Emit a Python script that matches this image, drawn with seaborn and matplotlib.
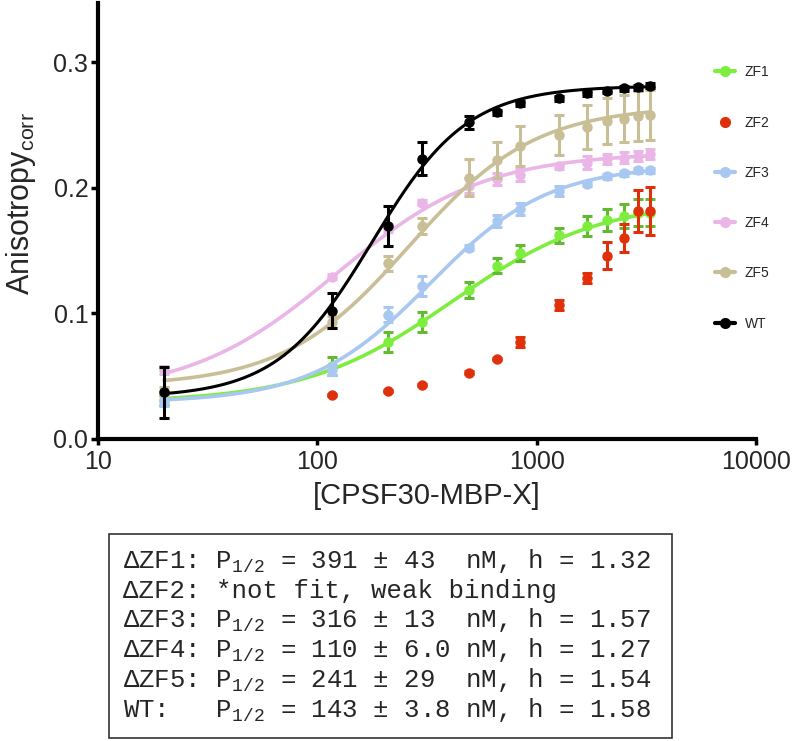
import numpy as np
import pandas as pd
import matplotlib
matplotlib.use("Agg")
import matplotlib.pyplot as plt
import seaborn as sns
from matplotlib.lines import Line2D
from matplotlib.patches import Rectangle
from matplotlib.ticker import NullLocator

# concentrations (nM)
conc = [20, 117, 210, 300, 490, 660, 840, 1260, 1690, 2100, 2500, 2900, 3300]

series = ["ZF1", "ZF2", "ZF3", "ZF4", "ZF5", "WT"]

zf1 = [0.031, 0.058, 0.077, 0.093, 0.1185, 0.138, 0.148, 0.162, 0.1695, 0.1745, 0.1775, 0.180, 0.180]
zf1_err = [0.004, 0.007, 0.008, 0.008, 0.0066, 0.006, 0.006, 0.006, 0.008, 0.0086, 0.0097, 0.0106, 0.0106]

zf2 = [np.nan, 0.035, 0.038, 0.043, 0.0527, 0.0638, 0.0774, 0.1066, 0.128, 0.146, 0.160, 0.1815, 0.1815]
zf2_err = [np.nan, 0.001, 0.001, 0.001, 0.001, 0.001, 0.004, 0.004, 0.004, 0.0106, 0.011, 0.0166, 0.019]

zf3 = [0.030, 0.055, 0.099, 0.122, 0.152, 0.1735, 0.183, 0.1975, 0.203, 0.209, 0.2115, 0.214, 0.214]
zf3_err = [0.004, 0.004, 0.006, 0.008, 0.002, 0.005, 0.005, 0.004, 0.002, 0.002, 0.002, 0.002, 0.002]

zf4 = [0.055, 0.129, 0.168, 0.188, 0.2015, 0.207, 0.210, 0.217, 0.220, 0.223, 0.224, 0.225, 0.227]
zf4_err = [0.003, 0.002, 0.003, 0.002, 0.006, 0.005, 0.005, 0.002, 0.005, 0.004, 0.004, 0.004, 0.004]

zf5 = [0.038, 0.093, 0.140, 0.1695, 0.208, 0.222, 0.233, 0.242, 0.248, 0.253, 0.255, 0.257, 0.258]
zf5_err = [0.003, 0.005, 0.006, 0.006, 0.015, 0.014, 0.016, 0.016, 0.0175, 0.0186, 0.019, 0.0197, 0.020]

wt = [0.037, 0.102, 0.1695, 0.223, 0.252, 0.260, 0.267, 0.271, 0.275, 0.277, 0.279, 0.280, 0.281]
wt_err = [0.020, 0.014, 0.016, 0.013, 0.005, 0.002, 0.002, 0.002, 0.002, 0.002, 0.002, 0.002, 0.002]

means = {"ZF1": zf1, "ZF2": zf2, "ZF3": zf3, "ZF4": zf4, "ZF5": zf5, "WT": wt}
errs = {"ZF1": zf1_err, "ZF2": zf2_err, "ZF3": zf3_err, "ZF4": zf4_err, "ZF5": zf5_err, "WT": wt_err}

# Hill fit curves as drawn: bottom, top, midpoint, slope (ZF2 not fit)
fits = {
    "ZF1": (0.029, 0.190, 412, 1.29),
    "ZF3": (0.029, 0.218, 325, 1.60),
    "ZF4": (0.035, 0.228, 122, 1.29),
    "ZF5": (0.042, 0.265, 262, 1.51),
    "WT": (0.033, 0.281, 178, 2.00),
}

colors = {"ZF1": "#7EEE3E", "ZF2": "#E0300A", "ZF3": "#A8C8F2",
          "ZF4": "#E9B6E7", "ZF5": "#C9BF97", "WT": "#000000"}
err_colors = {"ZF1": "#62BA32", "ZF2": "#E0300A", "ZF3": "#A8C8F2",
              "ZF4": "#E9B6E7", "ZF5": "#C9BF97", "WT": "#000000"}

box_lines = [
    r"ΔZF1: P$\mathregular{_{1/2}}$ = 391 ± 43  nM, h = 1.32",
    "ΔZF2: *not fit, weak binding",
    r"ΔZF3: P$\mathregular{_{1/2}}$ = 316 ± 13  nM, h = 1.57",
    r"ΔZF4: P$\mathregular{_{1/2}}$ = 110 ± 6.0 nM, h = 1.27",
    r"ΔZF5: P$\mathregular{_{1/2}}$ = 241 ± 29  nM, h = 1.54",
    r"WT:   P$\mathregular{_{1/2}}$ = 143 ± 3.8 nM, h = 1.58",
]

sns.set_style("ticks")
plt.rcParams["font.family"] = ["Liberation Sans", "DejaVu Sans"]

fig = plt.figure(figsize=(7.93, 7.41), dpi=100)
ax = fig.add_axes([0.1236, 0.4076, 0.8298, 0.5884])
ax.set_xscale("log")

xs = np.geomspace(conc[0], conc[-1], 300)
for i, name in enumerate(series):
    z = 2 + 2 * i
    if name in fits:
        b, t, p, h = fits[name]
        curve = pd.DataFrame({"x": xs, "y": b + (t - b) * xs**h / (p**h + xs**h)})
        lw = 2.2 if name == "WT" else 2.6
        sns.lineplot(data=curve, x="x", y="y", color=colors[name], lw=lw, ax=ax, zorder=z)
    ax.errorbar(conc, means[name], yerr=errs[name], fmt="o", color=colors[name],
                ecolor=err_colors[name], ms=6.5, capsize=3.5, elinewidth=2.2,
                capthick=2.2, zorder=z + 1)

ax.set_xlim(10, 10000)
ax.set_ylim(0, 0.347)
ax.set_xticks([10, 100, 1000, 10000])
ax.set_xticklabels(["10", "100", "1000", "10000"])
ax.xaxis.set_minor_locator(NullLocator())
ax.set_yticks([0, 0.1, 0.2, 0.3])
ax.set_yticklabels(["0.0", "0.1", "0.2", "0.3"])
ax.tick_params(axis="both", labelsize=18, width=2.5, color="black")
ax.tick_params(axis="x", length=4, pad=4)
ax.tick_params(axis="y", length=5, pad=2)
sns.despine(ax=ax)
for s in ["left", "bottom"]:
    ax.spines[s].set_linewidth(3)
    ax.spines[s].set_color("black")

ax.set_xlabel("[CPSF30-MBP-X]", fontsize=21)
ax.xaxis.set_label_coords(0.5, -0.098)
ax.set_ylabel(r"Anisotropy$_{\mathregular{corr}}$", fontsize=22)
ax.yaxis.set_label_coords(-0.091, 0.54)

handles = []
for name in series:
    lw = 0 if name == "ZF2" else 3
    handles.append(Line2D([0], [0], color=colors[name], lw=lw, marker="o", ms=7))
ax.legend(handles, series, loc="upper left", bbox_to_anchor=(0.937, 0.857),
          frameon=False, fontsize=10, handlelength=1.45, handletextpad=0.7,
          labelspacing=2.61, borderpad=0, borderaxespad=0)

# fit summary box
fig.patches.append(Rectangle((0.1375, 0.0036), 0.7103, 0.2753, transform=fig.transFigure,
                             fill=False, edgecolor="#333333", lw=1.2))
for k, line in enumerate(box_lines):
    fig.text(0.1551, 0.2335 - k * 0.0401, line, family="Liberation Mono",
             fontsize=18.5, va="baseline", ha="left")

fig.savefig("out.png", dpi=100)
